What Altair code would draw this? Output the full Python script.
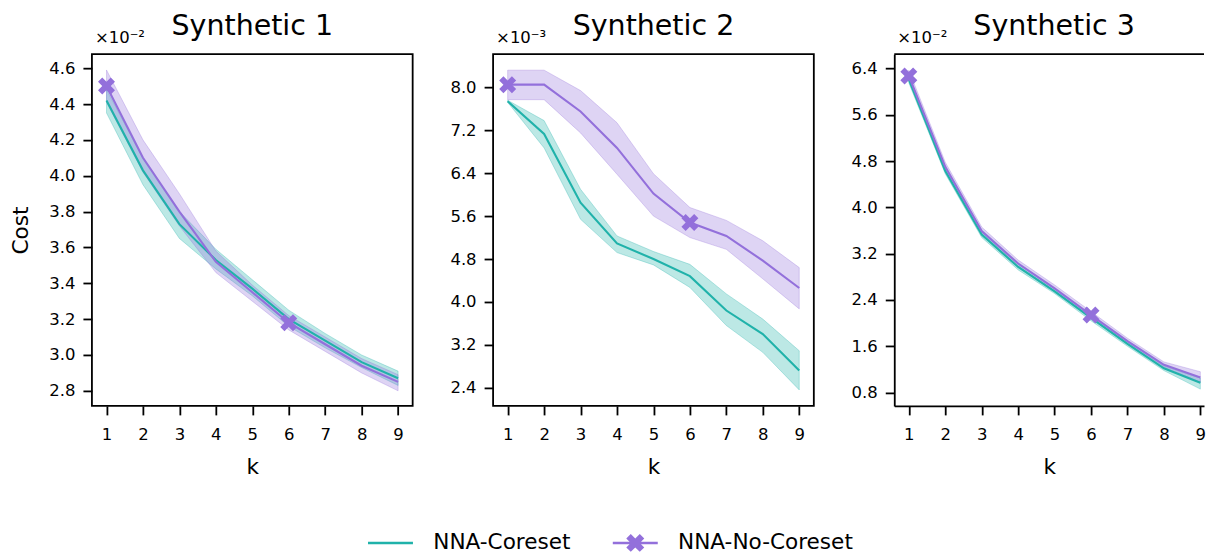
import altair as alt
import pandas as pd

FONT = "DejaVu Sans"
TEAL = "#20B2AA"
PURPLE = "#9370DB"

K = [1, 2, 3, 4, 5, 6, 7, 8, 9]
SERIES = ["NNA-Coreset", "NNA-No-Coreset"]
TITLES = ["Synthetic 1", "Synthetic 2", "Synthetic 3"]
MULTS = ["×10⁻²", "×10⁻³", "×10⁻²"]
MARK_K = [1, 6]

# ---- Synthetic 1 (x1e-2) ----
s1_core = [4.42, 4.03, 3.73, 3.53, 3.37, 3.20, 3.08, 2.96, 2.87]
s1_core_lo = [4.35, 3.95, 3.65, 3.48, 3.33, 3.16, 3.04, 2.93, 2.83]
s1_core_hi = [4.48, 4.10, 3.80, 3.59, 3.42, 3.25, 3.12, 3.00, 2.91]
s1_noc = [4.50, 4.10, 3.80, 3.52, 3.35, 3.18, 3.06, 2.94, 2.85]
s1_noc_lo = [4.41, 4.02, 3.72, 3.46, 3.30, 3.14, 3.02, 2.90, 2.80]
s1_noc_hi = [4.59, 4.20, 3.90, 3.58, 3.39, 3.22, 3.10, 2.98, 2.89]

# ---- Synthetic 2 (x1e-3) ----
s2_core = [7.74, 7.13, 5.85, 5.09, 4.80, 4.48, 3.84, 3.40, 2.72]
s2_core_lo = [7.72, 6.87, 5.54, 4.92, 4.69, 4.27, 3.56, 3.06, 2.36]
s2_core_hi = [7.76, 7.38, 6.10, 5.23, 4.94, 4.70, 4.15, 3.68, 3.09]
s2_noc = [8.05, 8.05, 7.55, 6.87, 6.02, 5.48, 5.23, 4.77, 4.26]
s2_noc_lo = [7.77, 7.77, 7.15, 6.38, 5.60, 5.20, 4.98, 4.43, 3.87]
s2_noc_hi = [8.32, 8.32, 7.94, 7.34, 6.39, 5.76, 5.52, 5.14, 4.64]

# ---- Synthetic 3 (x1e-2) ----
s3_core = [6.21, 4.63, 3.53, 2.97, 2.55, 2.09, 1.64, 1.22, 0.97]
s3_core_lo = [6.15, 4.58, 3.48, 2.92, 2.51, 2.04, 1.60, 1.18, 0.86]
s3_core_hi = [6.27, 4.68, 3.58, 3.02, 2.60, 2.13, 1.68, 1.26, 1.05]
s3_noc = [6.27, 4.70, 3.59, 3.03, 2.60, 2.14, 1.69, 1.28, 1.06]
s3_noc_lo = [6.19, 4.64, 3.54, 2.98, 2.55, 2.09, 1.65, 1.24, 0.98]
s3_noc_hi = [6.37, 4.78, 3.66, 3.09, 2.66, 2.20, 1.74, 1.33, 1.16]

Y_TICKS = [
    [2.8, 3.0, 3.2, 3.4, 3.6, 3.8, 4.0, 4.2, 4.4, 4.6],
    [2.4, 3.2, 4.0, 4.8, 5.6, 6.4, 7.2, 8.0],
    [0.8, 1.6, 2.4, 3.2, 4.0, 4.8, 5.6, 6.4],
]
Y_DOMAINS = [[2.716, 4.678], [2.062, 8.618], [0.570, 6.647]]
# third panel is cut by the right edge of the figure
X_DOMAINS = [[0.6, 9.4], [0.6, 9.4], [0.6, 9.1]]
PANEL_W = [321, 321, 310]
PANEL_H = 352

PANELS = [
    (s1_core, s1_core_lo, s1_core_hi, s1_noc, s1_noc_lo, s1_noc_hi),
    (s2_core, s2_core_lo, s2_core_hi, s2_noc, s2_noc_lo, s2_noc_hi),
    (s3_core, s3_core_lo, s3_core_hi, s3_noc, s3_noc_lo, s3_noc_hi),
]

# filled "X" marker (matplotlib style)
def x_path(s):
    pts = [(-0.5, -1), (0, -0.5), (0.5, -1), (1, -0.5), (0.5, 0), (1, 0.5),
           (0.5, 1), (0, 0.5), (-0.5, 1), (-1, 0.5), (-0.5, 0), (-1, -0.5)]
    return "M" + "L".join(f"{px * s:.4f},{py * s:.4f}" for px, py in pts) + "Z"


X_PATH = x_path(1.0)
LINE_PATH = "M-2.25,-0.125H2.25V0.125H-2.25Z"
LEGEND_SHAPES = [LINE_PATH, LINE_PATH + x_path(0.9)]

color_scale = alt.Scale(domain=SERIES, range=[TEAL, PURPLE])


def make_df(vals):
    core, core_lo, core_hi, noc, noc_lo, noc_hi = vals
    rows = []
    for i, k in enumerate(K):
        rows.append({"k": k, "series": SERIES[0], "mean": core[i], "lo": core_lo[i], "hi": core_hi[i]})
        rows.append({"k": k, "series": SERIES[1], "mean": noc[i], "lo": noc_lo[i], "hi": noc_hi[i]})
    return pd.DataFrame(rows)


def panel(i):
    df = make_df(PANELS[i])
    base = alt.Chart(df)
    last = i == 2
    ax_extra = dict(domain=True, domainColor="black", domainWidth=1.8) if last else {}
    xaxis = alt.Axis(values=K, format="d", title="k", **ax_extra)
    if i == 0:
        yaxis = alt.Axis(values=Y_TICKS[i], format=".1f", title="Cost", **ax_extra)
    else:
        yaxis = alt.Axis(values=Y_TICKS[i], format=".1f", title=None, **ax_extra)
    xscale = alt.Scale(domain=X_DOMAINS[i], nice=False, zero=False)
    yscale = alt.Scale(domain=Y_DOMAINS[i], nice=False, zero=False)
    x = alt.X("k:Q", scale=xscale, axis=xaxis)

    area = base.mark_area(fillOpacity=0.3, strokeOpacity=0.3, strokeWidth=1, clip=True).encode(
        x=x,
        y=alt.Y("lo:Q", scale=yscale, axis=yaxis),
        y2="hi:Q",
        color=alt.Color("series:N", scale=color_scale, legend=None),
        stroke=alt.Stroke("series:N", scale=color_scale, legend=None),
    )
    line = base.mark_line(strokeWidth=2.1, clip=True).encode(
        x=x,
        y=alt.Y("mean:Q", scale=yscale, axis=yaxis),
        color=alt.Color("series:N", scale=color_scale, legend=None),
    )
    mk = ",".join(str(v) for v in MARK_K)
    marks = base.transform_filter(
        f"datum.series == '{SERIES[1]}' && indexof([{mk}], datum.k) >= 0"
    ).mark_point(filled=True, opacity=1, size=289, shape=X_PATH, color=PURPLE).encode(
        x=x, y=alt.Y("mean:Q", scale=yscale, axis=yaxis)
    )
    mult = alt.Chart(pd.DataFrame({"t": [MULTS[i]]})).mark_text(
        align="left", baseline="alphabetic", font=FONT, fontSize=16.5, color="black", dx=3
    ).encode(x=alt.value(0), y=alt.value(-11), text="t:N")

    layers = [area, line, marks, mult]
    if i == 0:
        lg = alt.Legend(orient="none", legendX=288, legendY=478, direction="horizontal",
                        title=None)
        leg = alt.Chart(pd.DataFrame({"series": SERIES})).mark_point(filled=True, opacity=0).encode(
            color=alt.Color("series:N", scale=color_scale, legend=lg),
            shape=alt.Shape("series:N", scale=alt.Scale(domain=SERIES, range=LEGEND_SHAPES),
                            legend=lg),
        )
        layers = [leg] + layers
    if last:
        top = alt.Chart(pd.DataFrame({"t": [0]})).mark_rule(
            color="black", strokeWidth=1.8
        ).encode(x=alt.value(0), x2=alt.value(PANEL_W[i]), y=alt.value(0))
        layers.append(top)
    props = dict(
        width=PANEL_W[i], height=PANEL_H,
        title=alt.TitleParams(TITLES[i], frame="group", anchor="middle", offset=-10,
                              dx=(5 if last else 0)),
    )
    ch = alt.layer(*layers).properties(**props)
    if last:
        ch = ch.properties(view=alt.ViewBackground(stroke="transparent"))
    return ch


chart = alt.hconcat(panel(0), panel(1), panel(2), spacing=80.5, bounds="flush").properties(
    padding={"left": 9, "top": 10, "right": 0, "bottom": 0}
).configure_view(
    stroke="black", strokeWidth=1.8
).configure_axis(
    domain=False, grid=False, tickColor="black", tickWidth=1.8, tickSize=9,
    labelFont=FONT, labelFontSize=16.5, labelColor="black", labelPadding=8,
    titleFont=FONT, titleFontSize=21.6, titleFontWeight="normal", titleColor="black",
).configure_axisX(titlePadding=13, labelPadding=12).configure_axisY(titlePadding=16).configure_title(
    font=FONT, fontSize=28.5, fontWeight="normal", color="black"
).configure_legend(
    labelFont=FONT, labelFontSize=21.6, labelColor="black", symbolSize=400, labelLimit=500,
    symbolOpacity=1, labelOffset=32, columnPadding=42, symbolStrokeWidth=0, padding=0
)

chart.save("out.html", embed_options={"renderer": "svg", "actions": False})
